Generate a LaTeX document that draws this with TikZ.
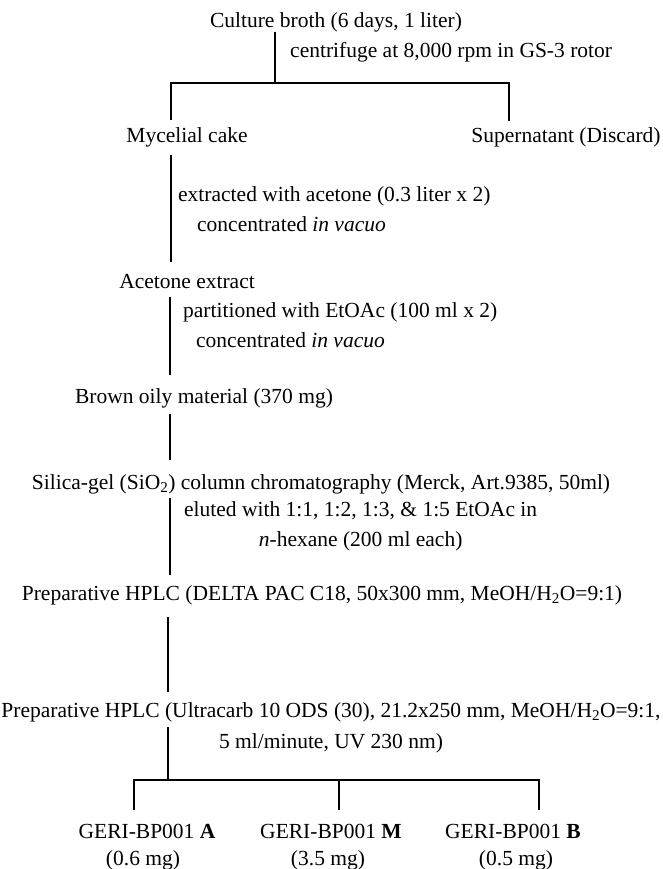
\documentclass[tikz,border=0pt]{standalone}
\usepackage{fontspec}
\setmainfont{Liberation Serif}
\tikzset{
  txt/.style={inner sep=0pt, font=\fontsize{21.5}{26}\selectfont},
  lnk/.style={line width=1.9pt},
}
\begin{document}
\begin{tikzpicture}[x=1pt,y=-1pt]
  \useasboundingbox (0,0) rectangle (663,869);
  % caldo
  \node[txt] (broth) at (336,22) {Culture broth (6 days, 1 liter)};
  \node[txt, anchor=west] (spin) at (290,52) {centrifuge at 8,000 rpm in GS-3 rotor};
  \coordinate (s0) at (275,32);
  \coordinate (s1) at (275,83);
  \coordinate (sl) at (171,83);
  \coordinate (sr) at (509,83);
  \coordinate (sl2) at (171,120);
  \coordinate (sr2) at (509,121);
  \draw[lnk] (s0) -- (s1);
  \draw[lnk] (sl2) -- (sl) -- (sr) -- (sr2);
  \node[txt] (cake) at (187,137) {Mycelial cake};
  \node[txt] (super) at (566,137) {Supernatant (Discard)};
  % acetona
  \coordinate (c0) at (171,155);
  \coordinate (c1) at (171,262);
  \draw[lnk] (c0) -- (c1);
  \node[txt, anchor=west] (extr) at (178,196) {extracted with acetone (0.3 liter x 2)};
  \node[txt, anchor=west] (conc1) at (197,224) {concentrated \textit{in vacuo}};
  \node[txt] (acet) at (187,282) {Acetone extract};
  % EtOAc
  \coordinate (a0) at (170,297);
  \coordinate (a1) at (170,375);
  \draw[lnk] (a0) -- (a1);
  \node[txt, anchor=west] (part) at (183,312) {partitioned with EtOAc (100 ml x 2)};
  \node[txt, anchor=west] (conc2) at (196,340) {concentrated \textit{in vacuo}};
  \node[txt] (oily) at (204,398) {Brown oily material (370 mg)};
  \coordinate (o0) at (170,414);
  \coordinate (o1) at (170,460);
  \draw[lnk] (o0) -- (o1);
  % silica
  \node[txt] (silica) at (321,484) {Silica-gel (SiO\textsubscript{2}) column chromatography (Merck, Art.9385, 50ml)};
  \coordinate (g0) at (170,498);
  \coordinate (g1) at (170,575);
  \draw[lnk] (g0) -- (g1);
  \node[txt, anchor=north west, align=center] (elut) at (184,501) {eluted with 1:1, 1:2, 1:3, \& 1:5 EtOAc in\\[4pt] \textit{n}-hexane (200 ml each)};
  % HPLC
  \node[txt] (delta) at (322,595) {Preparative HPLC (DELTA PAC C18, 50x300 mm, MeOH/H\textsubscript{2}O=9:1)};
  \coordinate (d0) at (168,617);
  \coordinate (d1) at (168,692);
  \draw[lnk] (d0) -- (d1);
  \node[txt, anchor=north, align=center] (ultra) at (331,702) {Preparative HPLC (Ultracarb 10 ODS (30), 21.2x250 mm, MeOH/H\textsubscript{2}O=9:1,\\[5pt] 5 ml/minute, UV 230 nm)};
  \coordinate (u0) at (168,727);
  \coordinate (u1) at (168,780);
  \coordinate (ul) at (134,780);
  \coordinate (ur) at (539,780);
  \coordinate (um) at (339,780);
  \coordinate (ul2) at (134,810);
  \coordinate (um2) at (339,810);
  \coordinate (ur2) at (539,810);
  \draw[lnk] (u0) -- (u1);
  \draw[lnk] (ul2) -- (ul) -- (ur) -- (ur2);
  \draw[lnk] (um) -- (um2);
  % fracoes
  \node[txt] (fa) at (147,831) {GERI-BP001 \textbf{A}};
  \node[txt] (fm) at (331,831) {GERI-BP001 \textbf{M}};
  \node[txt] (fb) at (513,831) {GERI-BP001 \textbf{B}};
  \node[txt] (ma) at (143,860) {(0.6 mg)};
  \node[txt] (mm) at (328,860) {(3.5 mg)};
  \node[txt] (mb) at (516,860) {(0.5 mg)};
\end{tikzpicture}
\end{document}
